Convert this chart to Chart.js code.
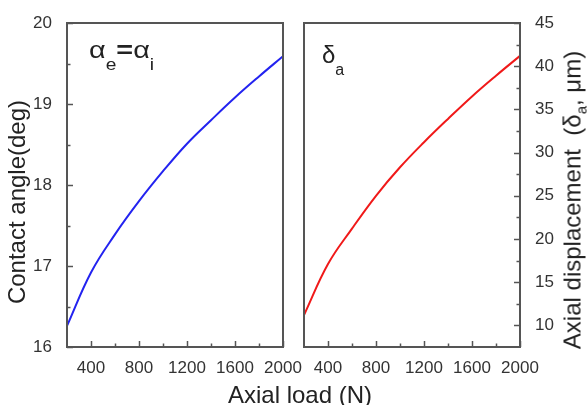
<!DOCTYPE html>
<html><head><meta charset="utf-8">
<script src="https://cdn.jsdelivr.net/npm/chart.js@4/dist/chart.umd.min.js"></script>
<style>
body{margin:0;background:#fff;}
#wrap{position:relative;width:587px;height:405px;overflow:hidden;font-family:"Liberation Sans",Arial,sans-serif;color:#222;background:#fff;}
canvas{position:absolute;left:0;top:0;}
.t{position:absolute;white-space:nowrap;font-size:24px;line-height:24px;}
.rot{transform:translate(-50%,-50%) rotate(-90deg);text-align:center;}
.sub{font-size:16px;position:relative;top:12px;}
.sub2{font-size:15px;position:relative;top:6px;}
</style></head><body>
<div id="wrap">
<canvas id="c1" width="587" height="405"></canvas>
<canvas id="c2" width="587" height="405"></canvas>
<div class="t rot" style="left:16.7px;top:202px;width:260px;">Contact angle(deg)</div>
<div class="t rot" style="left:573.7px;top:200px;width:330px;">Axial displacement&nbsp;&nbsp;(δ<span class="sub2">a</span>, μm)</div>
<div class="t" style="left:200px;top:383px;width:200px;text-align:center;">Axial load (N)</div>
<div class="t" style="left:89px;top:38px;transform:scaleX(1.2);transform-origin:0 0;">α<span class="sub">e</span><b>=</b>α<span class="sub">i</span></div>
<div class="t" style="left:322px;top:43px;">δ<span class="sub">a</span></div>
</div>
<script>
// ---- data ----
const loads = [200, 400, 600, 800, 1000, 1200, 1400, 1600, 1800, 2000];
const contactAngle = [16.26, 16.92, 17.39, 17.80, 18.17, 18.51, 18.80, 19.08, 19.34, 19.59];
const axialDisp = [11.2, 17.1, 21.2, 25.0, 28.3, 31.2, 33.9, 36.5, 38.9, 41.2];
const xTicks = [400, 800, 1200, 1600, 2000];
const xMinor = [600, 1000, 1400, 1800];
const yTicksLeft = [16, 17, 18, 19, 20];
const yMinorLeft = [16.5, 17.5, 18.5, 19.5];
const yTicksRight = [10, 15, 20, 25, 30, 35, 40, 45];
const yMinorRight = [12.5, 17.5, 22.5, 27.5, 32.5, 37.5, 42.5];

const framePlugin = {
  id: 'framePlugin',
  afterDraw(chart, args, o) {
    const ctx = chart.ctx, a = chart.chartArea;
    const xs = chart.scales.x, ys = chart.scales.y;
    ctx.save();
    ctx.strokeStyle = '#555';
    ctx.lineWidth = 1.5;
    const seg = (x1, y1, x2, y2) => { ctx.beginPath(); ctx.moveTo(x1, y1); ctx.lineTo(x2, y2); ctx.stroke(); };
    o.xMajor.forEach(v => { const p = Math.round(xs.getPixelForValue(v)) + 0.5; seg(p, a.bottom, p, a.bottom - 6); });
    o.xMinor.forEach(v => { const p = Math.round(xs.getPixelForValue(v)) + 0.5; seg(p, a.bottom, p, a.bottom - 3.5); });
    const x0 = o.side === 'left' ? a.left : a.right, d = o.side === 'left' ? 1 : -1;
    o.yMajor.forEach(v => { const p = Math.round(ys.getPixelForValue(v)) + 0.5; seg(x0, p, x0 + d * 6, p); });
    o.yMinor.forEach(v => { const p = Math.round(ys.getPixelForValue(v)) + 0.5; seg(x0, p, x0 + d * 3.5, p); });
    ctx.lineWidth = 2;
    ctx.strokeRect(a.left, a.top, a.right - a.left, a.bottom - a.top);
    ctx.restore();
  }
};

const tickFont = { family: '"Liberation Sans", Arial, sans-serif', size: 17 };

function makeChart(id, values, color, yMin, yMax, yTicks, yMinor, side) {
  const pts = loads.map((x, i) => ({ x: x, y: values[i] }));
  return new Chart(document.getElementById(id), {
    type: 'line',
    data: { datasets: [{ data: pts, borderColor: color, borderWidth: 2, pointRadius: 0, fill: false, tension: 0.4 }] },
    options: {
      responsive: false, animation: false, devicePixelRatio: 1,
      layout: { padding: side === 'left' ? { left: 0, right: 304, top: 23, bottom: 0 } : { left: 304, right: 0, top: 23, bottom: 0 } },
      plugins: { legend: { display: false }, tooltip: { enabled: false }, framePlugin: { xMajor: xTicks, xMinor: xMinor, yMajor: yTicks, yMinor: yMinor, side: side } },
      scales: {
        x: {
          type: 'linear', min: 200, max: 2000,
          grid: { display: false }, border: { display: false },
          afterBuildTicks: s => { s.ticks = xTicks.map(v => ({ value: v })); },
          afterFit: s => { s.height = 58; },
          ticks: { color: '#333', font: tickFont, padding: 3, maxRotation: 0, autoSkip: false, callback: v => String(v) }
        },
        y: {
          position: side, min: yMin, max: yMax,
          grid: { display: false }, border: { display: false },
          afterBuildTicks: s => { s.ticks = yTicks.map(v => ({ value: v })); },
          afterFit: s => { s.width = 67; },
          ticks: { color: '#333', font: tickFont, padding: 7, autoSkip: false, callback: v => String(v) }
        }
      }
    },
    plugins: [framePlugin]
  });
}

makeChart('c1', contactAngle, 'rgb(35,35,240)', 16, 20, yTicksLeft, yMinorLeft, 'left');
makeChart('c2', axialDisp, 'rgb(240,25,25)', 7.5, 45, yTicksRight, yMinorRight, 'right');
</script>
</body></html>
